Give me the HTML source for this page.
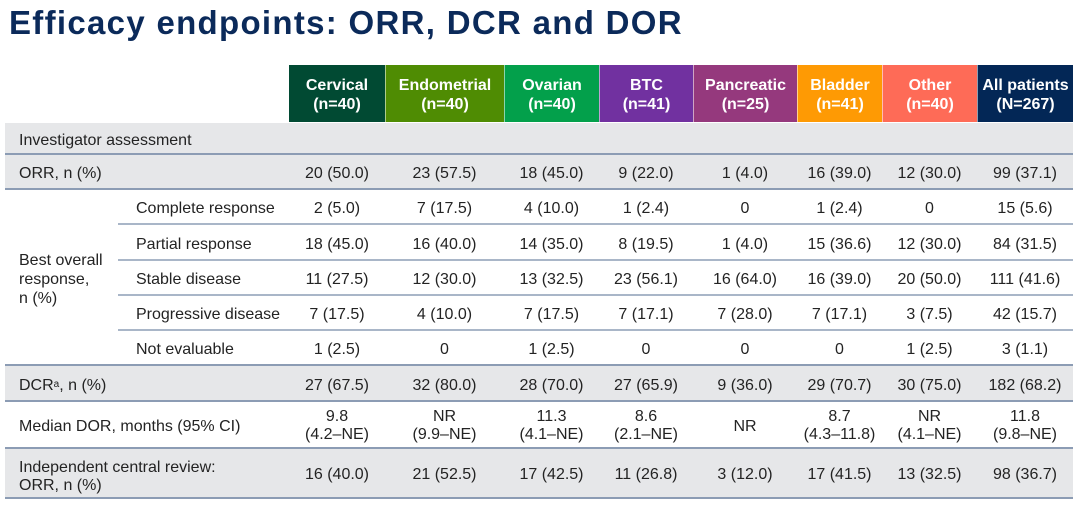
<!DOCTYPE html>
<html>
<head>
<meta charset="utf-8">
<style>
  html, body { margin:0; padding:0; }
  body { width:1080px; height:505px; background:#fff; position:relative; overflow:hidden;
         font-family:"Liberation Sans", Arial, sans-serif; color:#232323; }
  .title { position:absolute; left:9px; top:6px; font-size:33px; line-height:33px; font-weight:bold;
           color:#0b2a5a; letter-spacing:1.3px; white-space:nowrap; }
  .hdr { position:absolute; top:65px; height:57px; color:#fff; font-weight:bold; font-size:16px;
         line-height:19px; text-align:center; display:flex; align-items:center; justify-content:center;
         box-sizing:border-box; border-left:1px solid rgba(255,255,255,0.55); padding-top:3px; }
  .bg { position:absolute; left:5px; width:1068px; background:#e6e7e9; }
  .line { position:absolute; height:2px; background:#8c9cb4; }
  .sline { position:absolute; height:2px; background:#a9b6c8; }
  .lab { position:absolute; font-size:16px; white-space:nowrap; margin-top:2px; }
  .v { position:absolute; font-size:16px; text-align:center; white-space:nowrap; margin-top:2px; }
  sup { font-size:10px; vertical-align:top; position:relative; top:-1px; }
</style>
</head>
<body>
<div class="title">Efficacy endpoints: ORR, DCR and DOR</div>

<!-- headers -->
<div class="hdr" style="left:289px;width:96px;background:#014a33;border-left:none;">Cervical<br>(n=40)</div>
<div class="hdr" style="left:385px;width:119px;background:#4f8c03;">Endometrial<br>(n=40)</div>
<div class="hdr" style="left:504px;width:95px;background:#03a04b;">Ovarian<br>(n=40)</div>
<div class="hdr" style="left:599px;width:94px;background:#7131a0;">BTC<br>(n=41)</div>
<div class="hdr" style="left:693px;width:104px;background:#95397d;">Pancreatic<br>(n=25)</div>
<div class="hdr" style="left:797px;width:85px;background:#fe9a04;">Bladder<br>(n=41)</div>
<div class="hdr" style="left:882px;width:95px;background:#fe6b57;">Other<br>(n=40)</div>
<div class="hdr" style="left:977px;width:96px;background:#032756;">All patients<br>(N=267)</div>

<!-- gray backgrounds -->
<div class="bg" style="top:123px;height:67px;"></div>
<div class="bg" style="top:366px;height:36px;"></div>
<div class="bg" style="top:449px;height:50px;"></div>

<!-- lines -->
<div class="line" style="left:5px;width:1068px;top:153px;"></div>
<div class="line" style="left:5px;width:1068px;top:188px;"></div>
<div class="sline" style="left:118px;width:955px;top:223px;"></div>
<div class="sline" style="left:118px;width:955px;top:259px;"></div>
<div class="sline" style="left:118px;width:955px;top:294px;"></div>
<div class="sline" style="left:118px;width:955px;top:329px;"></div>
<div class="line" style="left:5px;width:1068px;top:364px;"></div>
<div class="line" style="left:5px;width:1068px;top:400px;"></div>
<div class="line" style="left:5px;width:1068px;top:447px;"></div>
<div class="line" style="left:5px;width:1068px;top:497px;"></div>

<!-- labels -->
<div class="lab" style="left:19px;top:123px;line-height:31px;">Investigator assessment</div>
<div class="lab" style="left:19px;top:155px;line-height:34px;">ORR, n (%)</div>
<div class="lab" style="left:19px;top:249px;line-height:19px;">Best overall<br>response,<br>n (%)</div>
<div class="lab" style="left:136px;top:190px;line-height:34px;">Complete response</div>
<div class="lab" style="left:136px;top:225px;line-height:35px;">Partial response</div>
<div class="lab" style="left:136px;top:260px;line-height:35px;">Stable disease</div>
<div class="lab" style="left:136px;top:295px;line-height:35px;">Progressive disease</div>
<div class="lab" style="left:136px;top:330px;line-height:35px;">Not evaluable</div>
<div class="lab" style="left:19px;top:366px;line-height:35px;">DCR<sup>a</sup>, n (%)</div>
<div class="lab" style="left:19px;top:402px;line-height:46px;">Median DOR, months (95% CI)</div>
<div class="lab" style="left:19px;top:457px;line-height:18px;">Independent central review:<br>ORR, n (%)</div>

<!-- values -->
<div class="v" style="left:289px;width:96px;top:155px;line-height:34px;">20 (50.0)</div>
<div class="v" style="left:385px;width:119px;top:155px;line-height:34px;">23 (57.5)</div>
<div class="v" style="left:504px;width:95px;top:155px;line-height:34px;">18 (45.0)</div>
<div class="v" style="left:599px;width:94px;top:155px;line-height:34px;">9 (22.0)</div>
<div class="v" style="left:693px;width:104px;top:155px;line-height:34px;">1 (4.0)</div>
<div class="v" style="left:797px;width:85px;top:155px;line-height:34px;">16 (39.0)</div>
<div class="v" style="left:882px;width:95px;top:155px;line-height:34px;">12 (30.0)</div>
<div class="v" style="left:977px;width:96px;top:155px;line-height:34px;">99 (37.1)</div>

<div class="v" style="left:289px;width:96px;top:190px;line-height:34px;">2 (5.0)</div>
<div class="v" style="left:385px;width:119px;top:190px;line-height:34px;">7 (17.5)</div>
<div class="v" style="left:504px;width:95px;top:190px;line-height:34px;">4 (10.0)</div>
<div class="v" style="left:599px;width:94px;top:190px;line-height:34px;">1 (2.4)</div>
<div class="v" style="left:693px;width:104px;top:190px;line-height:34px;">0</div>
<div class="v" style="left:797px;width:85px;top:190px;line-height:34px;">1 (2.4)</div>
<div class="v" style="left:882px;width:95px;top:190px;line-height:34px;">0</div>
<div class="v" style="left:977px;width:96px;top:190px;line-height:34px;">15 (5.6)</div>

<div class="v" style="left:289px;width:96px;top:225px;line-height:35px;">18 (45.0)</div>
<div class="v" style="left:385px;width:119px;top:225px;line-height:35px;">16 (40.0)</div>
<div class="v" style="left:504px;width:95px;top:225px;line-height:35px;">14 (35.0)</div>
<div class="v" style="left:599px;width:94px;top:225px;line-height:35px;">8 (19.5)</div>
<div class="v" style="left:693px;width:104px;top:225px;line-height:35px;">1 (4.0)</div>
<div class="v" style="left:797px;width:85px;top:225px;line-height:35px;">15 (36.6)</div>
<div class="v" style="left:882px;width:95px;top:225px;line-height:35px;">12 (30.0)</div>
<div class="v" style="left:977px;width:96px;top:225px;line-height:35px;">84 (31.5)</div>

<div class="v" style="left:289px;width:96px;top:260px;line-height:35px;">11 (27.5)</div>
<div class="v" style="left:385px;width:119px;top:260px;line-height:35px;">12 (30.0)</div>
<div class="v" style="left:504px;width:95px;top:260px;line-height:35px;">13 (32.5)</div>
<div class="v" style="left:599px;width:94px;top:260px;line-height:35px;">23 (56.1)</div>
<div class="v" style="left:693px;width:104px;top:260px;line-height:35px;">16 (64.0)</div>
<div class="v" style="left:797px;width:85px;top:260px;line-height:35px;">16 (39.0)</div>
<div class="v" style="left:882px;width:95px;top:260px;line-height:35px;">20 (50.0)</div>
<div class="v" style="left:977px;width:96px;top:260px;line-height:35px;">111 (41.6)</div>

<div class="v" style="left:289px;width:96px;top:295px;line-height:35px;">7 (17.5)</div>
<div class="v" style="left:385px;width:119px;top:295px;line-height:35px;">4 (10.0)</div>
<div class="v" style="left:504px;width:95px;top:295px;line-height:35px;">7 (17.5)</div>
<div class="v" style="left:599px;width:94px;top:295px;line-height:35px;">7 (17.1)</div>
<div class="v" style="left:693px;width:104px;top:295px;line-height:35px;">7 (28.0)</div>
<div class="v" style="left:797px;width:85px;top:295px;line-height:35px;">7 (17.1)</div>
<div class="v" style="left:882px;width:95px;top:295px;line-height:35px;">3 (7.5)</div>
<div class="v" style="left:977px;width:96px;top:295px;line-height:35px;">42 (15.7)</div>

<div class="v" style="left:289px;width:96px;top:330px;line-height:35px;">1 (2.5)</div>
<div class="v" style="left:385px;width:119px;top:330px;line-height:35px;">0</div>
<div class="v" style="left:504px;width:95px;top:330px;line-height:35px;">1 (2.5)</div>
<div class="v" style="left:599px;width:94px;top:330px;line-height:35px;">0</div>
<div class="v" style="left:693px;width:104px;top:330px;line-height:35px;">0</div>
<div class="v" style="left:797px;width:85px;top:330px;line-height:35px;">0</div>
<div class="v" style="left:882px;width:95px;top:330px;line-height:35px;">1 (2.5)</div>
<div class="v" style="left:977px;width:96px;top:330px;line-height:35px;">3 (1.1)</div>

<div class="v" style="left:289px;width:96px;top:366px;line-height:35px;">27 (67.5)</div>
<div class="v" style="left:385px;width:119px;top:366px;line-height:35px;">32 (80.0)</div>
<div class="v" style="left:504px;width:95px;top:366px;line-height:35px;">28 (70.0)</div>
<div class="v" style="left:599px;width:94px;top:366px;line-height:35px;">27 (65.9)</div>
<div class="v" style="left:693px;width:104px;top:366px;line-height:35px;">9 (36.0)</div>
<div class="v" style="left:797px;width:85px;top:366px;line-height:35px;">29 (70.7)</div>
<div class="v" style="left:882px;width:95px;top:366px;line-height:35px;">30 (75.0)</div>
<div class="v" style="left:977px;width:96px;top:366px;line-height:35px;">182 (68.2)</div>

<div class="v" style="left:289px;width:96px;top:406px;line-height:18px;">9.8<br>(4.2–NE)</div>
<div class="v" style="left:385px;width:119px;top:406px;line-height:18px;">NR<br>(9.9–NE)</div>
<div class="v" style="left:504px;width:95px;top:406px;line-height:18px;">11.3<br>(4.1–NE)</div>
<div class="v" style="left:599px;width:94px;top:406px;line-height:18px;">8.6<br>(2.1–NE)</div>
<div class="v" style="left:693px;width:104px;top:402px;line-height:46px;">NR</div>
<div class="v" style="left:797px;width:85px;top:406px;line-height:18px;">8.7<br>(4.3–11.8)</div>
<div class="v" style="left:882px;width:95px;top:406px;line-height:18px;">NR<br>(4.1–NE)</div>
<div class="v" style="left:977px;width:96px;top:406px;line-height:18px;">11.8<br>(9.8–NE)</div>

<div class="v" style="left:289px;width:96px;top:449px;line-height:48px;">16 (40.0)</div>
<div class="v" style="left:385px;width:119px;top:449px;line-height:48px;">21 (52.5)</div>
<div class="v" style="left:504px;width:95px;top:449px;line-height:48px;">17 (42.5)</div>
<div class="v" style="left:599px;width:94px;top:449px;line-height:48px;">11 (26.8)</div>
<div class="v" style="left:693px;width:104px;top:449px;line-height:48px;">3 (12.0)</div>
<div class="v" style="left:797px;width:85px;top:449px;line-height:48px;">17 (41.5)</div>
<div class="v" style="left:882px;width:95px;top:449px;line-height:48px;">13 (32.5)</div>
<div class="v" style="left:977px;width:96px;top:449px;line-height:48px;">98 (36.7)</div>
</body>
</html>
